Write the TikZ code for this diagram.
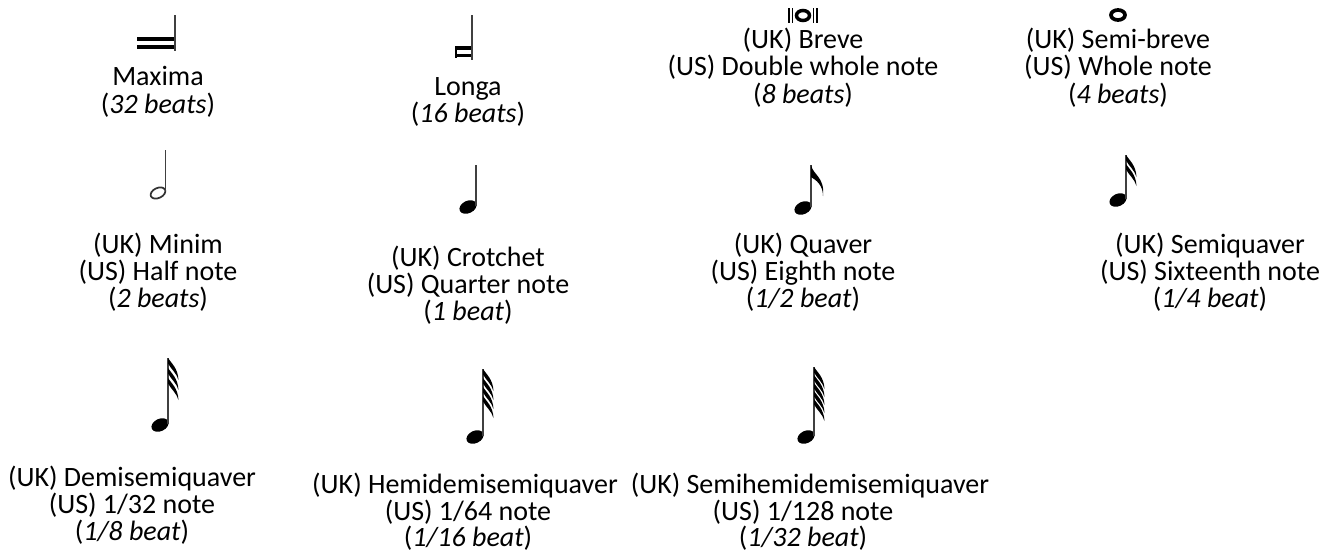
\documentclass[tikz,border=0pt]{standalone}
\usepackage{fontspec}
\setmainfont{Carlito}
\tikzset{
  lbl/.style={anchor=base,inner sep=0pt,font=\fontsize{21}{25}\selectfont},
  stemline/.style={line width=1.3pt,black!75},
  barline/.style={line width=2.8pt,black},
  headfill/.style={fill=black},
}
\newcommand\myhead[2]{\fill[headfill,rotate around={25:(#1,#2)}] (#1,#2) ellipse (9 and 6.2);}
\newcommand\mystem[3]{\draw[stemline] (#1+8,#2-1) -- (#1+8,#3);}
% flags: head x, top y, count, spacing
\newcommand\myflags[4]{%
  \foreach \k in {1,...,#3}{%
    \pgfmathsetmacro\fy{#2+(\k-1)*#4}%
    \fill[shift={(#1+8,\fy)}] (0,0) .. controls (3,5) and (10,10) .. (10.5,22)
      .. controls (8.5,15) and (3,11) .. (0,5.5) -- cycle;}%
}
\begin{document}
\begin{tikzpicture}[x=0.75pt,y=-0.75pt]
\useasboundingbox (0,0) rectangle (1325,553);
% ---------- row 1 glyphs
% maxima
\draw[barline] (137,39) -- (175,39);
\draw[barline] (137,47) -- (175,47);
\draw[stemline] (175,15) -- (175,51);
% longa
\draw[barline] (456,48) -- (472,48);
\draw[barline] (456,55.5) -- (472,55.5);
\draw[line width=1pt] (456,46) -- (456,58);
\draw[stemline] (472,15) -- (472,60);
% breve
\draw[line width=1.4pt] (789,8) -- (789,23) (792.5,8) -- (792.5,23) (813.5,8) -- (813.5,23) (817,8) -- (817,23);
\draw[line width=2.6pt] (803,15.5) ellipse (6.5 and 5);
% semibreve
\draw[line width=2.8pt] (1118,15) ellipse (7 and 5);
% ---------- row 1 labels
\node[lbl] (maxA) at (158,85) {Maxima};
\node[lbl] (maxB) at (158,113) {(\textit{32 beats})};
\node[lbl] (lonA) at (468,95) {Longa};
\node[lbl] (lonB) at (468,122) {(\textit{16 beats})};
\node[lbl] (brvA) at (803,48) {(UK) Breve};
\node[lbl] (brvB) at (803,75) {(US) Double whole note};
\node[lbl] (brvC) at (803,103) {(\textit{8 beats})};
\node[lbl] (sbrA) at (1118,48) {(UK) Semi-breve};
\node[lbl] (sbrB) at (1118,75) {(US) Whole note};
\node[lbl] (sbrC) at (1118,103) {(\textit{4 beats})};
% ---------- row 2 glyphs
% minim (hollow)
\draw[line width=1.3pt,black!80,rotate around={25:(158,193)}] (158,193) ellipse (7.8 and 5);
\draw[stemline] (165.6,191) -- (165.6,150);
\myhead{468}{207}\mystem{468}{207}{165}
\myhead{803}{208}\mystem{803}{208}{165}
\fill[shift={(811,165)}] (0,0) .. controls (2,10) and (14,12) .. (12,31)
   .. controls (12,20) and (5,15) .. (0,12) -- cycle;
\myhead{1118}{200}\mystem{1118}{200}{155}\myflags{1118}{155}{2}{9}
% ---------- row 2 labels
\node[lbl] (minA) at (158,253) {(UK) Minim};
\node[lbl] (minB) at (158,280) {(US) Half note};
\node[lbl] (minC) at (158,307) {(\textit{2 beats})};
\node[lbl] (crtA) at (468,266) {(UK) Crotchet};
\node[lbl] (crtB) at (468,293) {(US) Quarter note};
\node[lbl] (crtC) at (468,320) {(\textit{1 beat})};
\node[lbl] (quvA) at (803,253) {(UK) Quaver};
\node[lbl] (quvB) at (803,280) {(US) Eighth note};
\node[lbl] (quvC) at (803,307) {(\textit{1/2 beat})};
\node[lbl] (sqvA) at (1210,253) {(UK) Semiquaver};
\node[lbl] (sqvB) at (1210,280) {(US) Sixteenth note};
\node[lbl] (sqvC) at (1210,307) {(\textit{1/4 beat})};
% ---------- row 3 glyphs
\myhead{160}{425}\mystem{160}{425}{358}\myflags{160}{358}{3}{10}
\myhead{475}{437}\mystem{475}{437}{369}\myflags{475}{369}{4}{9}
\myhead{806}{437}\mystem{806}{437}{367}\myflags{806}{367}{5}{8}
% ---------- row 3 labels
\node[lbl] (dsqA) at (132,486) {(UK) Demisemiquaver};
\node[lbl] (dsqB) at (132,513) {(US) 1/32 note};
\node[lbl] (dsqC) at (132,540) {(\textit{1/8 beat})};
\node[lbl] (hdsA) at (465,493) {(UK) Hemidemisemiquaver};
\node[lbl] (hdsB) at (468,520) {(US) 1/64 note};
\node[lbl] (hdsC) at (468,546) {(\textit{1/16 beat})};
\node[lbl] (shdA) at (810,493) {(UK) Semihemidemisemiquaver};
\node[lbl] (shdB) at (803,520) {(US) 1/128 note};
\node[lbl] (shdC) at (803,546) {(\textit{1/32 beat})};
\end{tikzpicture}
\end{document}
